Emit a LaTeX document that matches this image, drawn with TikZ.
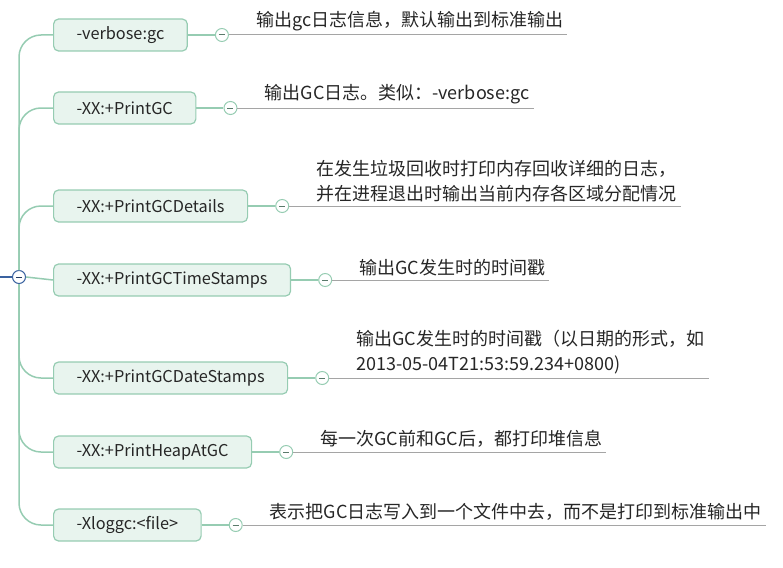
\documentclass[tikz,border=0pt]{standalone}
\usepackage{fontspec}
\setmainfont{Noto Sans CJK SC}
\usetikzlibrary{calc,positioning}
\definecolor{boxfill}{RGB}{232,244,238}
\definecolor{boxline}{RGB}{150,204,178}
\definecolor{branchgreen}{RGB}{150,204,178}
\definecolor{rootblue}{RGB}{58,98,160}
\definecolor{notegray}{RGB}{165,165,165}
\tikzset{
    optbox/.style={
        draw=boxline, fill=boxfill, line width=1.2pt,
        rounded corners=5pt, minimum height=32pt,
        inner xsep=23pt, anchor=west,
        font=\fontsize{16.3}{16}\selectfont, text=black!85
    },
    % small fold marks with a minus sign
    foldmark/.style={
        circle, draw=#1, fill=white, line width=1pt,
        minimum size=13pt, inner sep=0pt,
        path picture={\draw[#1!60!black, line width=1pt]
            ($(path picture bounding box.center)+(-3pt,0)$) --
            ($(path picture bounding box.center)+(3pt,0)$);}
    },
    foldmark/.default=branchgreen,
    note/.style={
        anchor=south west, align=left, inner xsep=4pt, inner ysep=3pt,
        font=\fontsize{18}{25}\selectfont, text=black!85
    },
    branch/.style={draw=branchgreen, line width=1.5pt, rounded corners=22pt},
    noteline/.style={draw=notegray, line width=1pt}
}

\begin{document}
\begin{tikzpicture}[x=1pt,y=-1pt]
    \useasboundingbox (0,0) rectangle (783,567);
    \node[foldmark=rootblue] (root) at (19,277) {};
    \coordinate (left) at (0,277);
    \draw[rootblue, line width=1.2pt] (left) -- (root);

    \node[optbox] (b1) at (53,35) {-verbose:gc};
    \node[optbox] (b2) at (53,108) {-XX:+PrintGC};
    \node[optbox] (b3) at (53,206) {-XX:+PrintGCDetails};
    \node[optbox] (b4) at (53,280) {-XX:+PrintGCTimeStamps};
    \node[optbox] (b5) at (53,378) {-XX:+PrintGCDateStamps};
    \node[optbox] (b6) at (53,452) {-XX:+PrintHeapAtGC};
    \node[optbox] (b7) at (53,525) {-Xloggc:<file>};

    % trunk and branches
    \draw[branch] (root.north) |- (b1.west);
    \draw[branch] (root.north) |- (b2.west);
    \draw[branch] (root.north) |- (b3.west);
    \draw[branch, rounded corners=4pt] (root.east) -- (b4.west);
    \draw[branch] (root.south) |- (b5.west);
    \draw[branch] (root.south) |- (b6.west);
    \draw[branch] (root.south) |- (b7.west);

    \node[foldmark, right=27pt of b1] (c1) {};
    \node[foldmark, right=27pt of b2] (c2) {};
    \node[foldmark, right=27pt of b3] (c3) {};
    \node[foldmark, right=27pt of b4] (c4) {};
    \node[foldmark, right=27pt of b5] (c5) {};
    \node[foldmark, right=27pt of b6] (c6) {};
    \node[foldmark, right=27pt of b7] (c7) {};
    \foreach \i in {1,...,7}
        \draw[branchgreen, line width=1.2pt] (b\i) -- (c\i);

    \node[note] (t1) at ($(c1.east)+(23,-1)$) {输出gc日志信息，默认输出到标准输出};
    \node[note] (t2) at ($(c2.east)+(23,-1)$) {输出GC日志。类似：-verbose:gc};
    \node[note] (t3) at ($(c3.east)+(23,-1)$) {在发生垃圾回收时打印内存回收详细的日志，\\并在进程退出时输出当前内存各区域分配情况};
    \node[note] (t4) at ($(c4.east)+(23,-1)$) {输出GC发生时的时间戳};
    \node[note] (t5) at ($(c5.east)+(23,-1)$) {输出GC发生时的时间戳（以日期的形式，如\\2013-05-04T21:53:59.234+0800)};
    \node[note] (t6) at ($(c6.east)+(23,-1)$) {每一次GC前和GC后，都打印堆信息};
    \node[note] (t7) at ($(c7.east)+(23,-1)$) {表示把GC日志写入到一个文件中去，而不是打印到标准输出中};
    \foreach \i in {1,...,7}
        \draw[noteline] (c\i.east) -- (t\i.south east |- c\i.east);
\end{tikzpicture}
\end{document}
